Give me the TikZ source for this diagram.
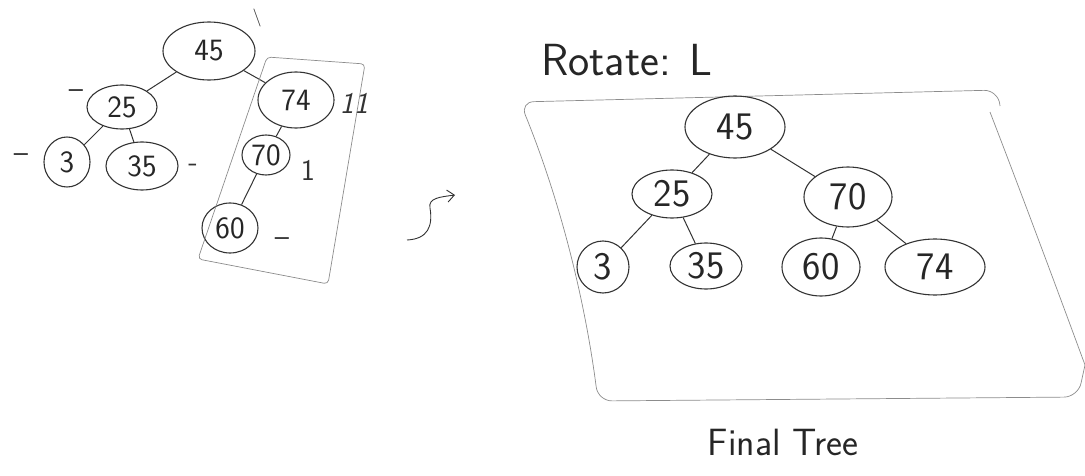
\documentclass[tikz,border=0pt]{standalone}
\usepackage{fontspec}
\usetikzlibrary{arrows.meta,shapes.geometric}
\begin{document}
\begin{tikzpicture}[x=1pt,y=-1pt,font=\sffamily,>={Straight Barb[length=7pt,width=12pt]},
  ink/.style={draw=black!80,line width=1.1pt},
  key/.style={ellipse,ink,inner sep=0pt,text=black!85},
  lkey/.style={key,font=\sffamily\fontsize{31}{33}\selectfont},
  rkey/.style={key,font=\sffamily\fontsize{39}{41}\selectfont},
  branch/.style={ink,line width=1pt},
  bal/.style={text=black!80,font=\sffamily\fontsize{30}{32}\selectfont},
  frame/.style={draw=black!45,line width=.7pt,rounded corners=10pt}]
\useasboundingbox (0,0) rectangle (1085,476);
% unbalanced tree, balance marks beside each key
\node[lkey,minimum width=92,minimum height=58] (l45) at (209,51) {45};
\node[lkey,minimum width=70,minimum height=44] (l25) at (122,107) {25};
\node[lkey,minimum width=76,minimum height=56] (l74) at (296,100) {74};
\node[lkey,minimum width=46,minimum height=50] (l3) at (67,162) {3};
\node[lkey,minimum width=72,minimum height=48] (l35) at (142,166) {35};
\node[lkey,minimum width=48,minimum height=40] (l70) at (266,155) {70};
\node[lkey,minimum width=56,minimum height=50] (l60) at (230,228) {60};
\draw[branch] (l45)--(l25) (l45)--(l74) (l25)--(l3) (l25)--(l35) (l74)--(l70) (l70)--(l60);
\node[bal,font=\sffamily\fontsize{18}{20}\selectfont] (b45) at (257,18) {\textbackslash};
\node[bal] (b25) at (76,94) {--};
\node[bal] (b3) at (21,158) {--};
\node[bal] (b35) at (193,168) {-};
\node[bal] (b74) at (354,103) {\itshape 11};
\node[bal] (b70) at (308,170) {1};
\node[bal] (b60) at (282,242) {--};
\draw[frame,rounded corners=4pt] (267,57)--(365,64)--(328,284)--(198,259)--cycle;
% rotation arrow
\coordinate (ta) at (407,240);
\coordinate (tb) at (455,195);
\draw[ink,line width=.9pt,->] (ta) .. controls (428,239) and (433,226) .. (430,208) .. controls (428,198) and (440,197) .. (tb);
\node[font=\sffamily\fontsize{45}{47}\selectfont,text=black!85] (rot) at (627,60) {Rotate: L};
% balanced result
\draw[frame,rounded corners=14pt] (1000,106)--(998,90)--(520,102) .. controls (560,200) and (585,300) .. (598,401)--(1078,397)--(1085,365);
\draw[frame,rounded corners=0pt] (1085,365) .. controls (1050,270) and (1020,190) .. (990,112);
\node[rkey,minimum width=100,minimum height=62] (r45) at (735,127) {45};
\node[rkey,minimum width=80,minimum height=48] (r25) at (672,194) {25};
\node[rkey,minimum width=88,minimum height=60] (r70) at (848,197) {70};
\node[rkey,minimum width=52,minimum height=52] (r3) at (603,267) {3};
\node[rkey,minimum width=72,minimum height=46] (r35) at (706,266) {35};
\node[rkey,minimum width=78,minimum height=58] (r60) at (821,267) {60};
\node[rkey,minimum width=100,minimum height=56] (r74) at (935,267) {74};
\draw[branch] (r45)--(r25) (r45)--(r70) (r25)--(r3) (r25)--(r35) (r70)--(r60) (r70)--(r74);
\node[font=\sffamily\fontsize{38}{40}\selectfont,text=black!85] (fin) at (783,442) {Final Tree};
\end{tikzpicture}
\end{document}
